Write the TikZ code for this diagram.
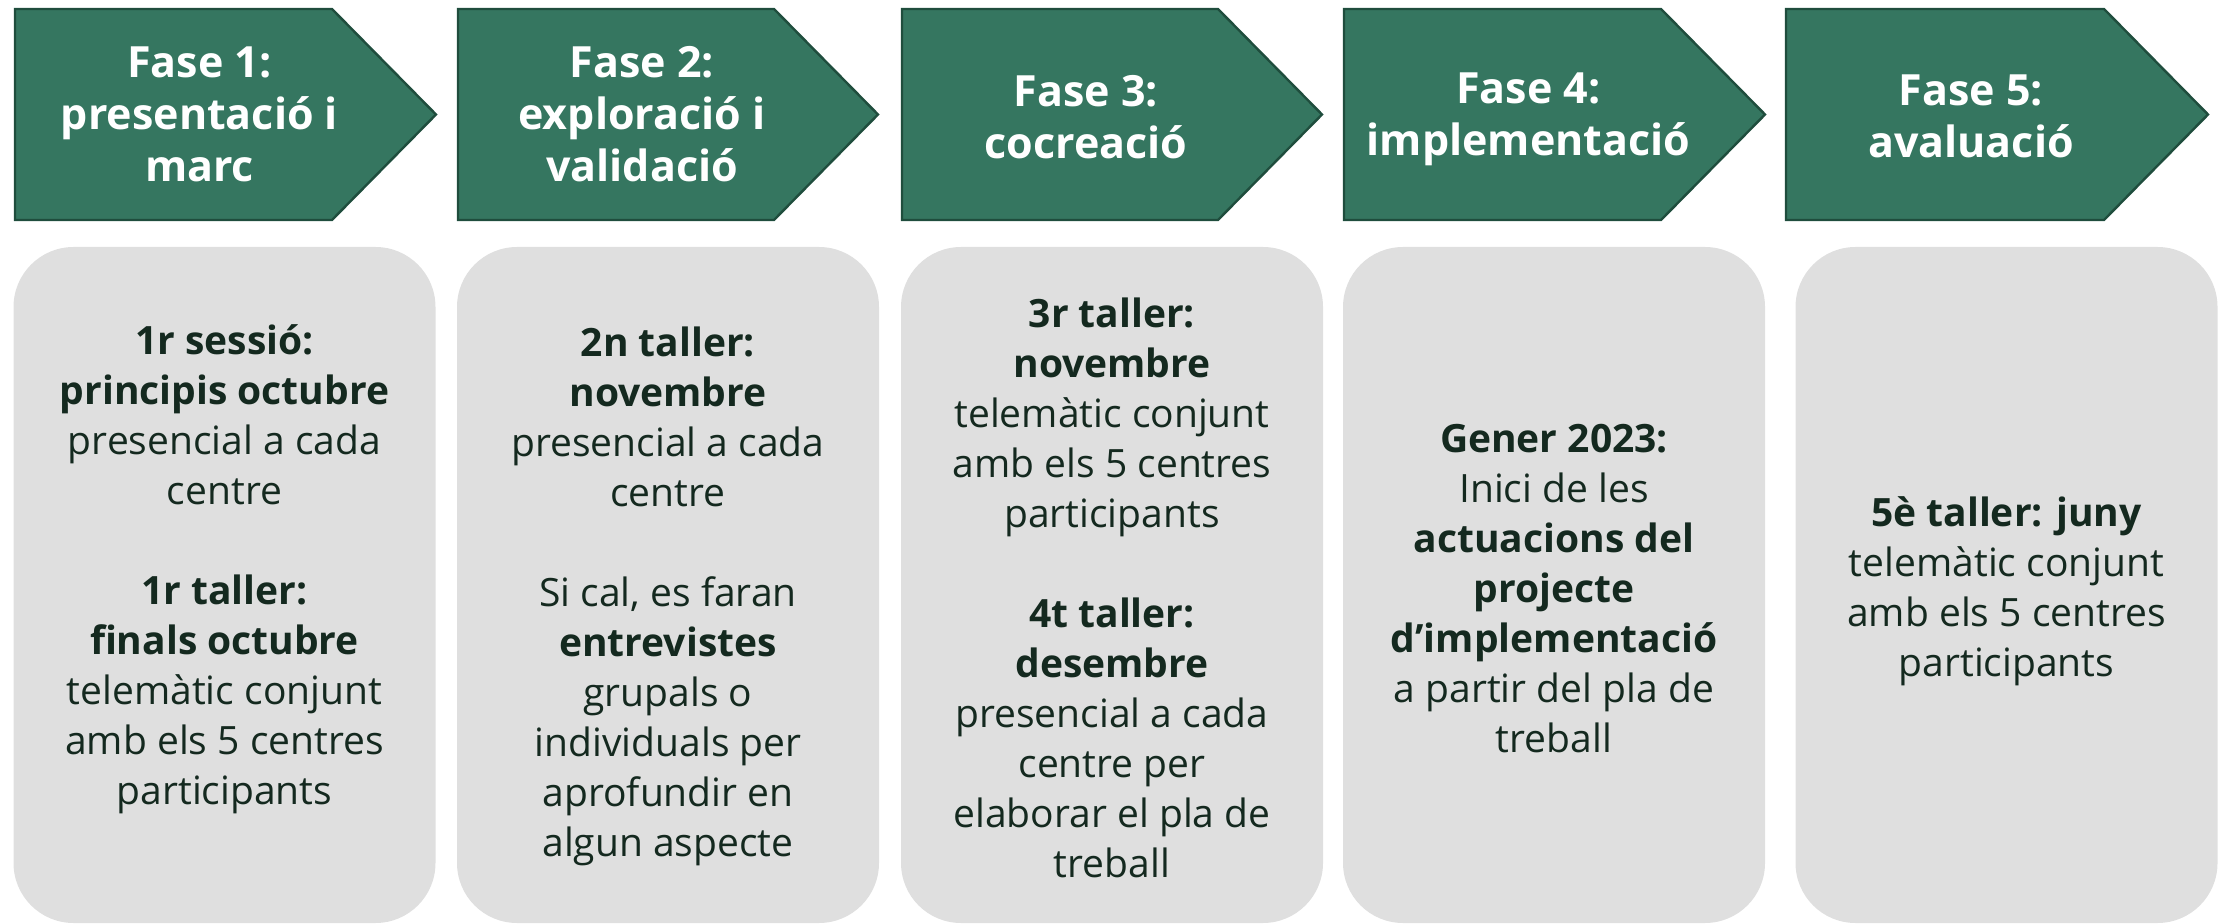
\documentclass[tikz,border=0pt]{standalone}
\usepackage{fontspec}
\setmainfont{Open Sans}
\definecolor{fasegreen}{HTML}{357660}
\definecolor{faseline}{HTML}{1F4D3D}
\definecolor{caixagray}{HTML}{DFDFDF}
\definecolor{caixatext}{HTML}{14291F}
\begin{document}
\begin{tikzpicture}
	[	x=0.5pt,y=-0.5pt,
	fase/.style={draw=faseline,fill=fasegreen,line width=1.2pt,line join=miter},
	fasetext/.style={text=white,align=center,inner sep=0pt,font=\fontsize{21.5}{26}\selectfont\bfseries},
	caixa/.style={rectangle,fill=caixagray,rounded corners=30pt,minimum width=211pt,minimum height=338pt,inner sep=0pt},
	textcaixa/.style={align=center,text=caixatext,inner sep=0pt,font=\fontsize{19.5}{25}\selectfont}
	]
	\useasboundingbox (0,0) rectangle (2221,924);

	% fases
	\draw[fase] (15,9) -- (332,9) -- (436,114.5) -- (332,220) -- (15,220) -- cycle;
	\draw[fase] (458,9) -- (774,9) -- (878,114.5) -- (774,220) -- (458,220) -- cycle;
	\draw[fase] (902,9) -- (1218,9) -- (1322,114.5) -- (1218,220) -- (902,220) -- cycle;
	\draw[fase] (1344,9) -- (1661,9) -- (1765,114.5) -- (1661,220) -- (1344,220) -- cycle;
	\draw[fase] (1786,9) -- (2104,9) -- (2208,114.5) -- (2104,220) -- (1786,220) -- cycle;

	\node[fasetext] (f1) at (199.5,114.5){Fase 1:\\presentació i\\marc};
	\node[fasetext] (f2) at (642,114.5){Fase 2:\\exploració i\\validació};
	\node[fasetext] (f3) at (1086,117){Fase 3:\\cocreació};
	\node[fasetext] (f4) at (1528.5,119.5){Fase 4:\\implementació};
	\node[fasetext] (f5) at (1971,116){Fase 5:\\avaluació};

	% caixes
	\node[caixa] (c1) at (224.5,585){};
	\node[caixa] (c2) at (668,585){};
	\node[caixa] (c3) at (1112,585){};
	\node[caixa] (c4) at (1554,585){};
	\node[caixa] (c5) at (2006.5,585){};

	\node[textcaixa] (t1) at (224.5,569){\textbf{1r sessió:}\\\textbf{principis octubre}\\presencial a cada\\centre\\[25pt]
		\textbf{1r taller:}\\\textbf{finals octubre}\\telemàtic conjunt\\amb els 5 centres\\participants};
	\node[textcaixa] (t2) at (668,596){\textbf{2n taller:}\\\textbf{novembre}\\presencial a cada\\centre\\[25pt]
		Si cal, es faran\\\textbf{entrevistes}\\grupals o\\individuals per\\aprofundir en\\algun aspecte};
	\node[textcaixa] (t3) at (1112,588){\textbf{3r taller:}\\\textbf{novembre}\\telemàtic conjunt\\amb els 5 centres\\participants\\[25pt]
		\textbf{4t taller:}\\\textbf{desembre}\\presencial a cada\\centre per\\elaborar el pla de\\treball};
	\node[textcaixa] (t4) at (1554,588.5){\textbf{Gener 2023:}\\Inici de les\\\textbf{actuacions del}\\\textbf{projecte}\\\textbf{d’implementació}\\a partir del pla de\\treball};
	\node[textcaixa] (t5) at (2006.5,591){\textbf{5è taller: juny}\\telemàtic conjunt\\amb els 5 centres\\participants};
\end{tikzpicture}
\end{document}
